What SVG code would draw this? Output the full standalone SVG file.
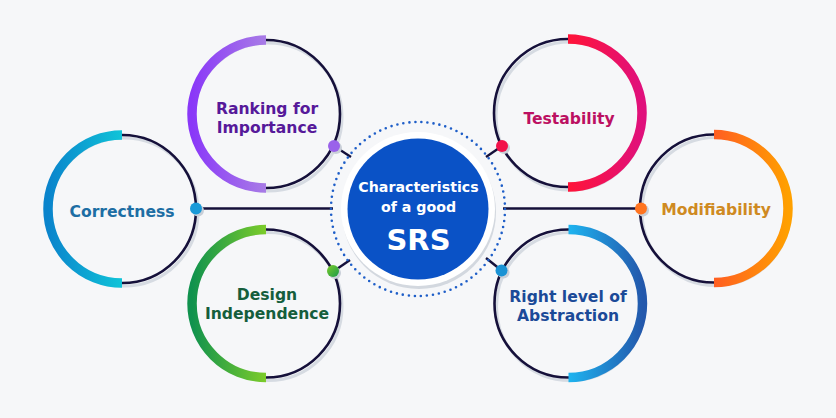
<svg xmlns="http://www.w3.org/2000/svg" width="836" height="418" viewBox="0 0 836 418">
<defs>
<linearGradient id="gCor" x1="0" x2="1" y1="0" y2="0"><stop offset="0" stop-color="#0a84cc"/><stop offset="1" stop-color="#10c4d8"/></linearGradient>
<linearGradient id="gRank" x1="0" x2="1" y1="0" y2="0"><stop offset="0" stop-color="#8a38f8"/><stop offset="1" stop-color="#a87ce6"/></linearGradient>
<linearGradient id="gDes" x1="0" x2="1" y1="0" y2="0"><stop offset="0" stop-color="#10924e"/><stop offset="1" stop-color="#7ccc2a"/></linearGradient>
<linearGradient id="gTest" x1="0" x2="1" y1="0" y2="0"><stop offset="0" stop-color="#ff1438"/><stop offset="1" stop-color="#e0107c"/></linearGradient>
<linearGradient id="gMod" x1="0" x2="1" y1="0" y2="0"><stop offset="0" stop-color="#ff5e22"/><stop offset="1" stop-color="#ffa000"/></linearGradient>
<linearGradient id="gRight" x1="0" x2="1" y1="0" y2="0"><stop offset="0" stop-color="#1eb4f0"/><stop offset="1" stop-color="#2358ac"/></linearGradient>
<linearGradient id="gDotDes" x1="0" x2="1" y1="0" y2="1"><stop offset="0" stop-color="#7ccc2a"/><stop offset="1" stop-color="#1a9a4a"/></linearGradient>
</defs>
<style>
.ring{fill:none;stroke:#15103a;stroke-width:2.6}
.shadow{fill:none;stroke:#d6dbe2;stroke-width:3}
.arc{fill:none;stroke-width:9.5}
.lbl{font-family:"DejaVu Sans",sans-serif;font-weight:bold;font-size:15.6px;text-anchor:middle}
.conn{stroke:#15103a;stroke-width:2.4;fill:none}
.dsh{fill:#c9cfd8}
.ctr{font-family:"DejaVu Sans",sans-serif;font-weight:bold;fill:#ffffff;text-anchor:middle}
</style>
<rect width="836" height="418" fill="#f6f7f9"/>

<g id="connectors">
<line class="conn" x1="197" y1="208.5" x2="333" y2="208.5"/>
<line class="conn" x1="503" y1="208.5" x2="641" y2="208.5"/>
<line class="conn" x1="334" y1="146" x2="351" y2="157"/>
<line class="conn" x1="502" y1="146" x2="486" y2="157"/>
<line class="conn" x1="334" y1="271" x2="350" y2="260"/>
<line class="conn" x1="501" y1="270" x2="486" y2="258"/>
</g>

<g id="center">
<circle cx="418" cy="209" r="87" fill="none" stroke="#1e5ec8" stroke-width="2.6" stroke-linecap="round" stroke-dasharray="0 6.07"/>
<circle cx="419" cy="212" r="77" fill="#d3d8df"/>
<circle cx="418" cy="209" r="77" fill="#ffffff"/>
<circle cx="418" cy="209" r="70.5" fill="#0a52c6"/>
<text class="ctr" x="418.5" y="192" font-size="14.2">Characteristics</text>
<text class="ctr" x="418.5" y="211.5" font-size="14.2">of a good</text>
<text class="ctr" x="418.5" y="250" font-size="29">SRS</text>
</g>

<g id="ranking">
<circle class="shadow" cx="268" cy="117" r="74"/>
<circle class="ring" cx="266" cy="114" r="74"/>
<path class="arc" stroke="url(#gRank)" d="M266 40 A74 74 0 0 0 266 188"/>
<circle class="dsh" cx="336" cy="148" r="6"/>
<circle cx="334" cy="146" r="6" fill="#9a62ea"/>
<text class="lbl" fill="#56199a" x="267" y="114">Ranking for</text>
<text class="lbl" fill="#56199a" x="267" y="133">Importance</text>
</g>

<g id="correctness">
<circle class="shadow" cx="124" cy="212" r="74"/>
<circle class="ring" cx="122" cy="209" r="74"/>
<path class="arc" stroke="url(#gCor)" d="M122 135 A74 74 0 0 0 122 283"/>
<circle class="dsh" cx="198" cy="210.5" r="6"/>
<circle cx="196" cy="208.5" r="6" fill="#1a9ad8"/>
<text class="lbl" fill="#1d6ea4" x="122" y="216.5">Correctness</text>
</g>

<g id="design">
<circle class="shadow" cx="268" cy="306.5" r="74"/>
<circle class="ring" cx="266" cy="303.5" r="74"/>
<path class="arc" stroke="url(#gDes)" d="M266 229.5 A74 74 0 0 0 266 377.5"/>
<circle class="dsh" cx="335" cy="273" r="6"/>
<circle cx="333" cy="271" r="6" fill="url(#gDotDes)"/>
<text class="lbl" fill="#155e3c" x="267" y="300">Design</text>
<text class="lbl" fill="#155e3c" x="267" y="319">Independence</text>
</g>

<g id="testability">
<circle class="shadow" cx="570" cy="116" r="74"/>
<circle class="ring" cx="568" cy="113" r="74"/>
<path class="arc" stroke="url(#gTest)" d="M568 39 A74 74 0 0 1 568 187"/>
<circle class="dsh" cx="504" cy="148" r="6"/>
<circle cx="502" cy="146" r="6" fill="#f2124a"/>
<text class="lbl" fill="#bc1062" x="569" y="123.5">Testability</text>
</g>

<g id="modifiability">
<circle class="shadow" cx="716" cy="211.5" r="74"/>
<circle class="ring" cx="714" cy="208.5" r="74"/>
<path class="arc" stroke="url(#gMod)" d="M714 134.5 A74 74 0 0 1 714 282.5"/>
<circle class="dsh" cx="643" cy="210.5" r="6"/>
<circle cx="641" cy="208.5" r="6" fill="#ff7420"/>
<text class="lbl" fill="#cf8a22" x="716" y="215">Modifiability</text>
</g>

<g id="rightlevel">
<circle class="shadow" cx="570.5" cy="306.5" r="74"/>
<circle class="ring" cx="568.5" cy="303.5" r="74"/>
<path class="arc" stroke="url(#gRight)" d="M568.5 229.5 A74 74 0 0 1 568.5 377.5"/>
<circle class="dsh" cx="503.5" cy="272.5" r="6"/>
<circle cx="501.5" cy="270.5" r="6" fill="#1a92d4"/>
<text class="lbl" fill="#1b4a98" x="568" y="301.5">Right level of</text>
<text class="lbl" fill="#1b4a98" x="568" y="320.5">Abstraction</text>
</g>
</svg>
